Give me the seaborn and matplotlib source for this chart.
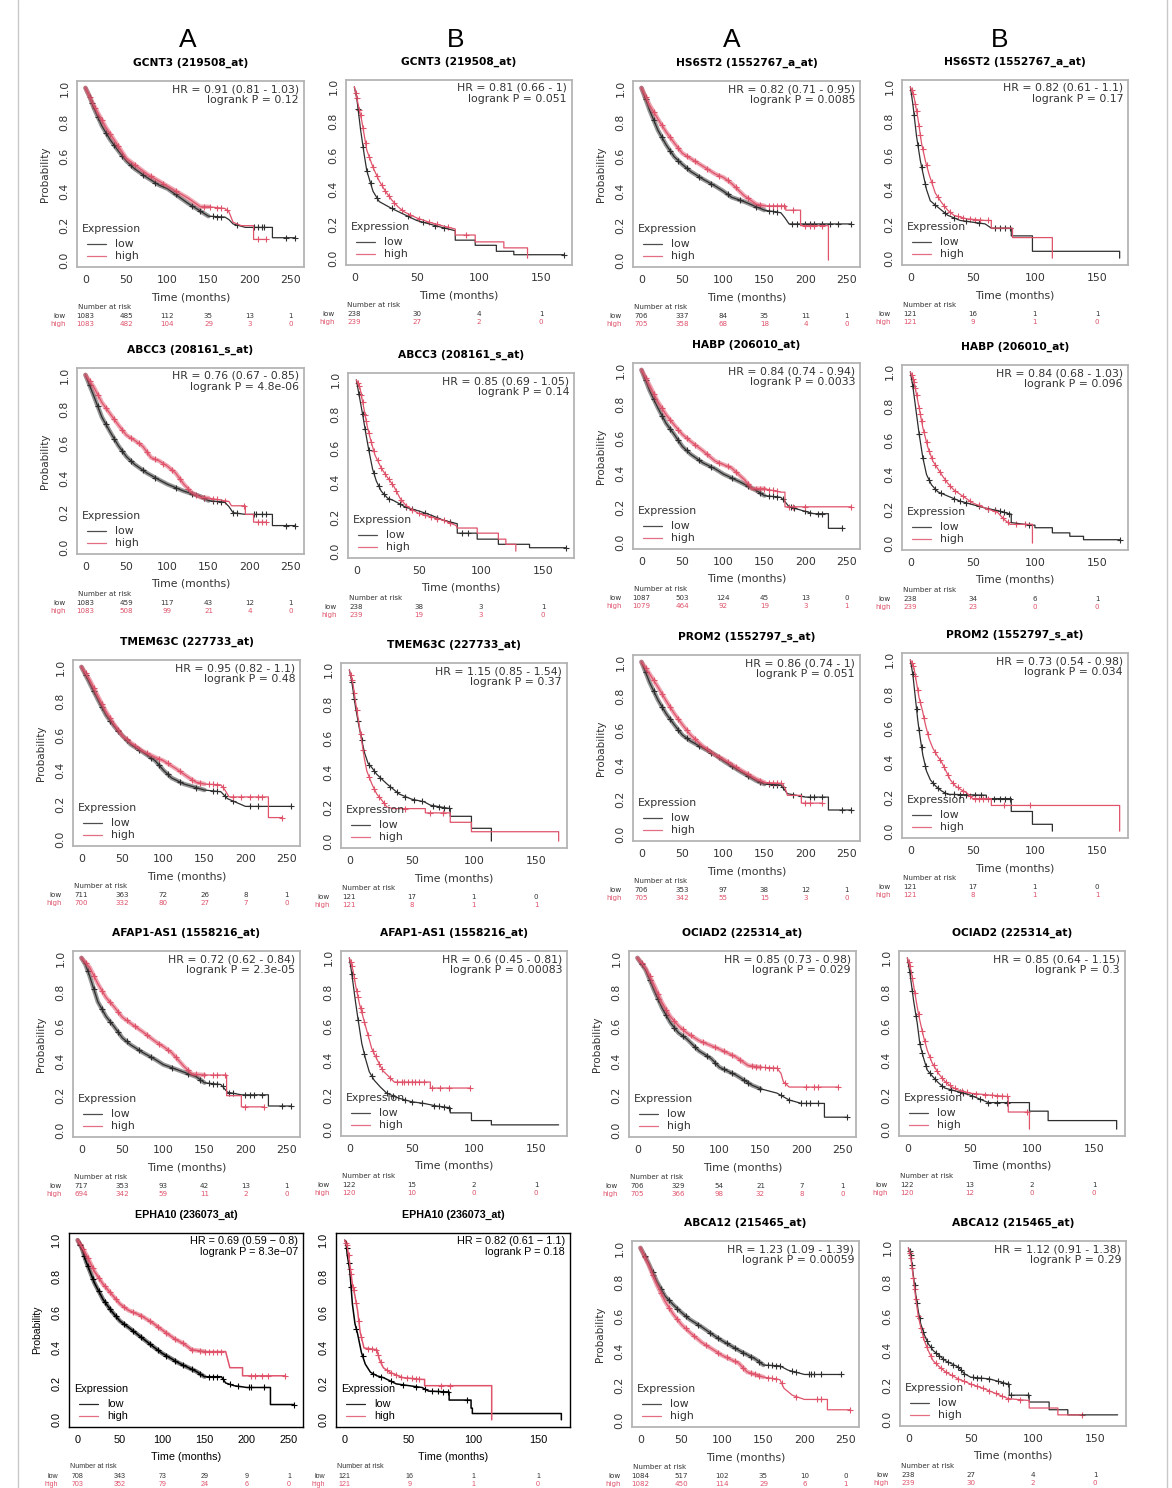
import numpy as np
import pandas as pd
import matplotlib.pyplot as plt
import seaborn as sns
from matplotlib.lines import Line2D
from matplotlib.transforms import blended_transform_factory

sns.set_style("white")
plt.rcParams["font.family"] = ["DejaVu Sans"]

# ---------------- curves: vertices (T, S) and censor times (C) ----------------
GCNT3_A_LOW_T = [0, 5, 10, 20, 30, 40, 50, 60, 75, 90, 100, 125, 150, 170, 175, 180, 195, 228, 228, 256]
GCNT3_A_LOW_S = [1.0, 0.95, 0.885, 0.78, 0.70, 0.635, 0.575, 0.53, 0.48, 0.435, 0.415, 0.33, 0.255, 0.25, 0.235, 0.21, 0.19, 0.19, 0.13, 0.13]
GCNT3_A_LOW_C = [8, 15, 25, 35, 45, 55, 70, 85, 110, 130, 140, 155, 160, 165, 185, 205, 210, 215, 218, 245, 256]
GCNT3_A_HIGH_T = [0, 10, 25, 50, 75, 100, 125, 140, 150, 170, 175, 180, 190, 205, 205, 220]
GCNT3_A_HIGH_S = [1.0, 0.90, 0.77, 0.59, 0.50, 0.43, 0.36, 0.31, 0.31, 0.30, 0.28, 0.22, 0.20, 0.20, 0.12, 0.12]
GCNT3_A_HIGH_C = [5, 12, 20, 30, 40, 60, 80, 95, 110, 145, 152, 160, 165, 172, 210, 220]

GCNT3_B_LOW_T = [0, 2, 5, 8, 10, 15, 20, 25, 30, 40, 50, 60, 70, 81, 81, 97, 97, 114, 114, 128, 128, 168]
GCNT3_B_LOW_S = [1.0, 0.93, 0.75, 0.60, 0.51, 0.39, 0.33, 0.31, 0.29, 0.255, 0.22, 0.20, 0.18, 0.16, 0.105, 0.105, 0.075, 0.075, 0.04, 0.04, 0.02, 0.02]
GCNT3_B_LOW_C = [3, 7, 10, 13, 18, 30, 43, 55, 65, 72, 168]
GCNT3_B_HIGH_T = [0, 3, 6, 10, 15, 20, 25, 30, 35, 40, 50, 60, 70, 81, 81, 97, 97, 120, 120, 139, 139]
GCNT3_B_HIGH_S = [1.0, 0.90, 0.80, 0.63, 0.53, 0.45, 0.39, 0.34, 0.30, 0.27, 0.235, 0.21, 0.19, 0.17, 0.135, 0.135, 0.095, 0.095, 0.06, 0.06, 0.0]
GCNT3_B_HIGH_C = [1, 2, 4, 5, 7, 9, 12, 15, 18, 22, 25, 28, 32, 38, 45, 52, 60, 66, 75, 90]

HS6ST2_A_LOW_T = [0, 10, 20, 30, 40, 50, 60, 75, 90, 100, 110, 125, 150, 170, 175, 180, 256]
HS6ST2_A_LOW_S = [1.0, 0.87, 0.755, 0.67, 0.60, 0.555, 0.515, 0.47, 0.43, 0.40, 0.365, 0.34, 0.29, 0.275, 0.245, 0.21, 0.21]
HS6ST2_A_LOW_C = [5, 15, 25, 35, 45, 55, 70, 85, 105, 120, 140, 155, 160, 165, 183, 190, 200, 205, 210, 220, 230, 240, 256]
HS6ST2_A_HIGH_T = [0, 10, 20, 30, 40, 50, 60, 75, 90, 100, 110, 125, 140, 150, 176, 176, 194, 194, 228, 228]
HS6ST2_A_HIGH_S = [1.0, 0.90, 0.82, 0.745, 0.68, 0.62, 0.59, 0.545, 0.50, 0.48, 0.445, 0.375, 0.325, 0.315, 0.315, 0.29, 0.29, 0.20, 0.20, 0.0]
HS6ST2_A_HIGH_C = [5, 15, 25, 35, 45, 55, 65, 80, 95, 105, 115, 130, 145, 155, 160, 165, 170, 174, 185, 200, 205, 210, 220]

HS6ST2_B_LOW_T = [0, 2, 5, 8, 10, 13, 16, 20, 25, 30, 40, 50, 60, 65, 81, 81, 98, 98, 168, 168]
HS6ST2_B_LOW_S = [1.0, 0.90, 0.71, 0.57, 0.50, 0.40, 0.335, 0.31, 0.28, 0.25, 0.22, 0.21, 0.20, 0.175, 0.175, 0.13, 0.13, 0.04, 0.04, 0.0]
HS6ST2_B_LOW_C = [3, 6, 9, 12, 20, 28, 35, 45, 55, 68, 72, 76, 80]
HS6ST2_B_HIGH_T = [0, 3, 6, 9, 12, 15, 20, 25, 30, 35, 45, 60, 65, 65, 82, 82, 114, 114]
HS6ST2_B_HIGH_S = [1.0, 0.94, 0.82, 0.67, 0.57, 0.49, 0.38, 0.325, 0.28, 0.25, 0.23, 0.22, 0.22, 0.175, 0.175, 0.12, 0.12, 0.0]
HS6ST2_B_HIGH_C = [1, 2, 4, 5, 7, 8, 10, 13, 17, 22, 27, 32, 38, 42, 48, 52, 56, 62]

ABCC3_A_LOW_T = [0, 10, 20, 30, 40, 50, 60, 75, 90, 100, 120, 140, 150, 170, 175, 180, 195, 228, 228, 256]
ABCC3_A_LOW_S = [1.0, 0.88, 0.755, 0.67, 0.59, 0.525, 0.48, 0.43, 0.39, 0.365, 0.325, 0.295, 0.27, 0.26, 0.235, 0.20, 0.19, 0.19, 0.125, 0.125]
ABCC3_A_LOW_C = [5, 15, 25, 35, 45, 55, 70, 85, 110, 130, 145, 155, 160, 165, 180, 185, 205, 208, 215, 220, 245, 256]
ABCC3_A_HIGH_T = [0, 10, 20, 30, 40, 50, 60, 70, 80, 90, 100, 110, 120, 130, 140, 150, 175, 178, 195, 195, 205, 205, 220]
ABCC3_A_HIGH_S = [1.0, 0.93, 0.84, 0.775, 0.71, 0.65, 0.62, 0.585, 0.52, 0.50, 0.47, 0.43, 0.365, 0.315, 0.29, 0.285, 0.265, 0.24, 0.24, 0.19, 0.19, 0.145, 0.145]
ABCC3_A_HIGH_C = [5, 15, 25, 35, 45, 55, 65, 75, 85, 95, 105, 115, 125, 135, 145, 155, 160, 170, 193, 210, 215, 220]

ABCC3_B_LOW_T = [0, 2, 5, 8, 10, 13, 16, 20, 25, 30, 40, 50, 60, 70, 81, 81, 97, 97, 114, 114, 139, 139, 168]
ABCC3_B_LOW_S = [1.0, 0.92, 0.80, 0.67, 0.59, 0.48, 0.41, 0.35, 0.31, 0.295, 0.255, 0.235, 0.21, 0.18, 0.16, 0.105, 0.105, 0.07, 0.07, 0.04, 0.04, 0.02, 0.02]
ABCC3_B_LOW_C = [2, 5, 7, 10, 14, 18, 22, 26, 35, 40, 45, 55, 65, 75, 85, 90, 168]
ABCC3_B_HIGH_T = [0, 3, 6, 9, 12, 15, 20, 25, 30, 35, 40, 50, 60, 70, 80, 81, 97, 97, 114, 114, 120, 120, 128, 128]
ABCC3_B_HIGH_S = [1.0, 0.95, 0.835, 0.72, 0.635, 0.56, 0.485, 0.43, 0.38, 0.31, 0.265, 0.22, 0.20, 0.18, 0.15, 0.135, 0.135, 0.105, 0.105, 0.07, 0.07, 0.04, 0.04, 0.0]
ABCC3_B_HIGH_C = [1, 2, 4, 5, 7, 8, 10, 12, 14, 17, 20, 23, 26, 29, 32, 36, 40, 45, 50, 55, 60, 65, 70, 75]

HABP_A_LOW_T = [0, 10, 20, 30, 40, 50, 60, 75, 90, 100, 120, 140, 150, 170, 175, 180, 195, 210, 228, 228, 245]
HABP_A_LOW_S = [1.0, 0.88, 0.78, 0.69, 0.625, 0.555, 0.51, 0.46, 0.425, 0.395, 0.35, 0.30, 0.27, 0.26, 0.235, 0.205, 0.185, 0.165, 0.165, 0.08, 0.08]
HABP_A_LOW_C = [5, 15, 25, 35, 45, 55, 70, 85, 110, 130, 145, 155, 160, 165, 172, 182, 186, 200, 205, 215, 220, 245]
HABP_A_HIGH_T = [0, 10, 20, 30, 40, 50, 60, 75, 90, 100, 110, 125, 135, 150, 170, 175, 175, 256]
HABP_A_HIGH_S = [1.0, 0.91, 0.815, 0.74, 0.68, 0.625, 0.585, 0.53, 0.47, 0.45, 0.43, 0.365, 0.31, 0.31, 0.29, 0.29, 0.205, 0.205]
HABP_A_HIGH_C = [5, 15, 25, 35, 45, 55, 65, 80, 95, 105, 115, 130, 140, 145, 150, 155, 160, 165, 180, 185, 200, 256]

HABP_B_LOW_T = [0, 2, 5, 7, 10, 13, 17, 22, 30, 40, 50, 60, 70, 80, 81, 81, 97, 100, 100, 114, 114, 128, 128, 139, 139, 168]
HABP_B_LOW_S = [1.0, 0.915, 0.75, 0.64, 0.50, 0.40, 0.34, 0.30, 0.275, 0.245, 0.225, 0.205, 0.19, 0.17, 0.17, 0.12, 0.105, 0.105, 0.09, 0.09, 0.06, 0.06, 0.04, 0.04, 0.02, 0.02]
HABP_B_LOW_C = [2, 7, 10, 15, 20, 25, 35, 40, 45, 55, 62, 68, 72, 75, 79, 95, 168]
HABP_B_HIGH_T = [0, 3, 6, 10, 14, 18, 22, 26, 30, 35, 40, 50, 60, 70, 75, 80, 98, 98]
HABP_B_HIGH_S = [1.0, 0.94, 0.83, 0.675, 0.56, 0.48, 0.435, 0.39, 0.35, 0.31, 0.285, 0.235, 0.205, 0.18, 0.14, 0.11, 0.11, 0.0]
HABP_B_HIGH_C = [1, 2, 3, 4, 5, 7, 8, 9, 11, 13, 15, 17, 20, 24, 28, 32, 36, 42, 48, 55, 62, 68, 74, 78, 85, 92]

TMEM63C_A_LOW_T = [0, 10, 20, 30, 40, 50, 60, 75, 90, 100, 110, 125, 150, 170, 178, 200, 256]
TMEM63C_A_LOW_S = [1.0, 0.905, 0.81, 0.72, 0.655, 0.60, 0.55, 0.505, 0.455, 0.40, 0.355, 0.32, 0.285, 0.275, 0.235, 0.19, 0.19]
TMEM63C_A_LOW_C = [5, 15, 25, 35, 45, 55, 70, 85, 95, 105, 120, 140, 160, 165, 175, 185, 205, 215, 256]
TMEM63C_A_HIGH_T = [0, 10, 20, 30, 40, 50, 60, 75, 90, 100, 115, 130, 140, 150, 170, 175, 180, 228, 228, 245]
TMEM63C_A_HIGH_S = [1.0, 0.925, 0.83, 0.74, 0.665, 0.60, 0.56, 0.51, 0.475, 0.455, 0.41, 0.36, 0.33, 0.32, 0.315, 0.285, 0.245, 0.245, 0.125, 0.125]
TMEM63C_A_HIGH_C = [5, 15, 25, 35, 45, 55, 65, 80, 95, 105, 120, 135, 145, 155, 160, 165, 172, 185, 195, 205, 215, 220, 245]

TMEM63C_B_LOW_T = [0, 2, 5, 8, 12, 15, 18, 22, 30, 40, 50, 60, 65, 81, 81, 98, 98, 114, 114]
TMEM63C_B_LOW_S = [1.0, 0.93, 0.78, 0.66, 0.52, 0.455, 0.43, 0.39, 0.335, 0.275, 0.245, 0.23, 0.21, 0.19, 0.145, 0.145, 0.075, 0.075, 0.0]
TMEM63C_B_LOW_C = [2, 4, 7, 10, 16, 20, 25, 33, 38, 45, 52, 58, 67, 72, 76, 80]
TMEM63C_B_HIGH_T = [0, 3, 5, 8, 10, 12, 14, 18, 22, 26, 30, 35, 61, 61, 81, 81, 98, 98, 168, 168]
TMEM63C_B_HIGH_S = [1.0, 0.915, 0.81, 0.675, 0.58, 0.485, 0.41, 0.335, 0.275, 0.24, 0.20, 0.19, 0.19, 0.165, 0.165, 0.11, 0.11, 0.055, 0.055, 0.0]
TMEM63C_B_HIGH_C = [1, 2, 4, 6, 9, 11, 16, 20, 24, 28, 45, 65, 75]

PROM2_A_LOW_T = [0, 10, 20, 30, 40, 50, 60, 75, 90, 100, 120, 140, 150, 170, 178, 200, 228, 228, 256]
PROM2_A_LOW_S = [1.0, 0.88, 0.78, 0.70, 0.635, 0.575, 0.54, 0.50, 0.46, 0.425, 0.365, 0.31, 0.29, 0.285, 0.235, 0.215, 0.215, 0.14, 0.14]
PROM2_A_LOW_C = [5, 15, 25, 35, 45, 55, 70, 85, 110, 130, 145, 155, 160, 165, 172, 185, 195, 205, 210, 220, 245, 256]
PROM2_A_HIGH_T = [0, 10, 20, 30, 40, 50, 60, 75, 90, 100, 120, 140, 150, 170, 175, 178, 195, 195, 220]
PROM2_A_HIGH_S = [1.0, 0.93, 0.855, 0.775, 0.70, 0.635, 0.575, 0.51, 0.46, 0.435, 0.375, 0.32, 0.30, 0.295, 0.27, 0.225, 0.225, 0.18, 0.18]
PROM2_A_HIGH_C = [5, 15, 25, 35, 45, 55, 65, 80, 95, 105, 115, 130, 145, 155, 160, 165, 170, 200, 205, 220]

PROM2_B_LOW_T = [0, 2, 4, 6, 8, 10, 13, 16, 20, 25, 30, 61, 61, 81, 81, 98, 98, 114, 114]
PROM2_B_LOW_S = [1.0, 0.915, 0.78, 0.645, 0.54, 0.445, 0.35, 0.30, 0.265, 0.235, 0.215, 0.21, 0.19, 0.19, 0.115, 0.115, 0.04, 0.04, 0.0]
PROM2_B_LOW_C = [2, 5, 7, 9, 12, 18, 22, 28, 35, 40, 45, 52, 57, 67, 72, 76, 80]
PROM2_B_HIGH_T = [0, 3, 5, 7, 10, 12, 15, 18, 22, 25, 28, 32, 36, 40, 45, 50, 65, 65, 168, 168]
PROM2_B_HIGH_S = [1.0, 0.95, 0.865, 0.78, 0.695, 0.625, 0.54, 0.485, 0.435, 0.405, 0.36, 0.30, 0.265, 0.245, 0.225, 0.19, 0.19, 0.15, 0.15, 0.0]
PROM2_B_HIGH_C = [1, 2, 4, 6, 8, 11, 14, 20, 24, 27, 30, 34, 38, 42, 48, 52, 55, 58, 62, 75, 96]

AFAP1_A_LOW_T = [0, 5, 10, 20, 30, 40, 50, 60, 75, 90, 100, 120, 140, 150, 170, 178, 195, 228, 228, 256]
AFAP1_A_LOW_S = [1.0, 0.96, 0.895, 0.745, 0.66, 0.60, 0.535, 0.495, 0.45, 0.41, 0.38, 0.345, 0.31, 0.275, 0.265, 0.22, 0.205, 0.205, 0.14, 0.14]
AFAP1_A_LOW_C = [8, 15, 25, 35, 45, 55, 70, 85, 110, 130, 145, 155, 160, 165, 172, 180, 185, 200, 205, 210, 220, 245, 256]
AFAP1_A_HIGH_T = [0, 10, 20, 30, 40, 50, 60, 75, 90, 100, 110, 125, 135, 150, 177, 177, 195, 195, 222]
AFAP1_A_HIGH_S = [1.0, 0.945, 0.85, 0.77, 0.715, 0.655, 0.62, 0.57, 0.515, 0.485, 0.45, 0.37, 0.325, 0.32, 0.32, 0.20, 0.20, 0.135, 0.135]
AFAP1_A_HIGH_C = [5, 15, 25, 35, 45, 55, 65, 80, 95, 105, 115, 130, 140, 150, 160, 165, 175, 200, 222]

AFAP1_B_LOW_T = [0, 2, 5, 7, 10, 13, 16, 20, 25, 30, 40, 50, 60, 70, 81, 81, 98, 98, 114, 114, 168]
AFAP1_B_LOW_S = [1.0, 0.905, 0.74, 0.64, 0.50, 0.41, 0.335, 0.285, 0.245, 0.21, 0.18, 0.16, 0.15, 0.135, 0.125, 0.095, 0.095, 0.05, 0.05, 0.025, 0.025]
AFAP1_B_LOW_C = [2, 7, 12, 18, 30, 35, 45, 50, 58, 68, 72, 76, 80]
AFAP1_B_HIGH_T = [0, 3, 5, 8, 11, 14, 18, 22, 27, 32, 36, 65, 65, 97]
AFAP1_B_HIGH_S = [1.0, 0.925, 0.84, 0.735, 0.655, 0.575, 0.47, 0.41, 0.34, 0.305, 0.275, 0.275, 0.24, 0.24]
AFAP1_B_HIGH_C = [1, 2, 4, 6, 7, 9, 10, 12, 15, 19, 21, 24, 26, 33, 38, 42, 44, 47, 50, 53, 56, 60, 66, 73, 80, 97]

OCIAD2_A_LOW_T = [0, 10, 20, 30, 40, 50, 60, 75, 90, 100, 120, 140, 150, 170, 185, 200, 228, 228, 256]
OCIAD2_A_LOW_S = [1.0, 0.93, 0.815, 0.71, 0.625, 0.565, 0.53, 0.46, 0.415, 0.365, 0.32, 0.26, 0.24, 0.215, 0.175, 0.155, 0.155, 0.075, 0.075]
OCIAD2_A_LOW_C = [5, 15, 25, 35, 45, 55, 70, 85, 95, 105, 115, 130, 135, 150, 175, 185, 200, 205, 210, 220, 256]
OCIAD2_A_HIGH_T = [0, 10, 20, 30, 40, 50, 60, 75, 90, 100, 120, 135, 150, 170, 175, 178, 185, 245]
OCIAD2_A_HIGH_S = [1.0, 0.94, 0.845, 0.74, 0.66, 0.605, 0.565, 0.52, 0.49, 0.47, 0.425, 0.375, 0.365, 0.36, 0.33, 0.28, 0.25, 0.25]
OCIAD2_A_HIGH_C = [5, 15, 25, 35, 45, 55, 65, 80, 95, 105, 115, 125, 140, 145, 150, 155, 160, 165, 170, 180, 205, 215, 220, 245]

OCIAD2_B_LOW_T = [0, 2, 5, 8, 10, 13, 16, 20, 25, 30, 40, 50, 60, 65, 98, 98, 113, 113, 168, 168]
OCIAD2_B_LOW_S = [1.0, 0.915, 0.75, 0.615, 0.50, 0.415, 0.345, 0.31, 0.27, 0.24, 0.22, 0.20, 0.17, 0.155, 0.155, 0.105, 0.105, 0.05, 0.05, 0.0]
OCIAD2_B_LOW_C = [2, 4, 7, 10, 12, 15, 18, 22, 28, 35, 42, 45, 52, 58, 65, 72, 80]
OCIAD2_B_HIGH_T = [0, 3, 5, 8, 10, 13, 16, 20, 25, 30, 35, 40, 50, 65, 81, 81, 98, 98]
OCIAD2_B_HIGH_S = [1.0, 0.925, 0.84, 0.71, 0.635, 0.54, 0.46, 0.385, 0.325, 0.28, 0.25, 0.23, 0.21, 0.20, 0.19, 0.10, 0.10, 0.0]
OCIAD2_B_HIGH_C = [1, 2, 4, 6, 9, 12, 14, 18, 21, 24, 28, 31, 34, 38, 44, 48, 55, 62, 68, 72, 76, 80, 96]

EPHA10_A_LOW_T = [0, 5, 10, 20, 30, 40, 50, 60, 75, 90, 100, 120, 140, 150, 170, 175, 185, 200, 228, 228, 256]
EPHA10_A_LOW_S = [1.0, 0.955, 0.88, 0.76, 0.67, 0.605, 0.55, 0.515, 0.46, 0.405, 0.37, 0.315, 0.27, 0.24, 0.24, 0.205, 0.19, 0.18, 0.18, 0.085, 0.085]
EPHA10_A_LOW_C = [3, 8, 12, 18, 25, 32, 38, 45, 55, 65, 75, 85, 95, 105, 115, 125, 135, 145, 155, 160, 165, 172, 180, 190, 203, 205, 220, 256]
EPHA10_A_HIGH_T = [0, 10, 20, 30, 40, 50, 60, 75, 90, 100, 115, 125, 135, 150, 175, 180, 195, 195, 245]
EPHA10_A_HIGH_S = [1.0, 0.92, 0.825, 0.755, 0.70, 0.645, 0.61, 0.58, 0.535, 0.50, 0.45, 0.425, 0.39, 0.38, 0.38, 0.29, 0.29, 0.245, 0.245]
EPHA10_A_HIGH_C = [3, 6, 12, 18, 25, 32, 38, 45, 55, 65, 75, 85, 95, 105, 115, 125, 135, 145, 150, 155, 160, 165, 170, 205, 210, 218, 225, 245]

EPHA10_B_LOW_T = [0, 1, 2, 4, 6, 8, 10, 13, 16, 20, 25, 30, 40, 50, 60, 65, 81, 81, 98, 98, 99, 99, 168, 168]
EPHA10_B_LOW_S = [1.0, 0.99, 0.92, 0.83, 0.645, 0.535, 0.48, 0.375, 0.31, 0.265, 0.245, 0.235, 0.20, 0.19, 0.18, 0.16, 0.155, 0.11, 0.11, 0.065, 0.065, 0.035, 0.035, 0.0]
EPHA10_B_LOW_C = [1.5, 3, 5, 9, 14, 22, 28, 36, 45, 55, 62, 68, 72, 76, 80, 95]
EPHA10_B_HIGH_T = [0, 2, 4, 6, 8, 10, 12, 15, 25, 27, 30, 35, 45, 60, 62, 62, 114, 114]
EPHA10_B_HIGH_S = [1.0, 0.965, 0.865, 0.755, 0.69, 0.61, 0.49, 0.40, 0.39, 0.335, 0.29, 0.265, 0.235, 0.225, 0.225, 0.19, 0.19, 0.0]
EPHA10_B_HIGH_C = [1, 1.5, 3, 4.5, 5, 6.5, 7, 9, 11, 13, 18, 21, 24, 26, 28, 33, 36, 40, 44, 48, 52, 55, 58, 75, 82]

ABCA12_A_LOW_T = [0, 10, 20, 30, 40, 50, 60, 75, 90, 100, 120, 140, 150, 170, 180, 200, 245]
ABCA12_A_LOW_S = [1.0, 0.91, 0.805, 0.72, 0.67, 0.625, 0.585, 0.54, 0.49, 0.46, 0.405, 0.355, 0.32, 0.315, 0.29, 0.265, 0.265]
ABCA12_A_LOW_C = [5, 15, 25, 35, 45, 55, 70, 85, 95, 105, 115, 125, 135, 145, 155, 160, 165, 170, 185, 190, 205, 208, 212, 220, 245]
ABCA12_A_HIGH_T = [0, 10, 20, 30, 40, 50, 60, 75, 90, 100, 120, 130, 150, 170, 175, 185, 200, 228, 228, 256]
ABCA12_A_HIGH_S = [1.0, 0.90, 0.785, 0.69, 0.615, 0.555, 0.51, 0.45, 0.405, 0.375, 0.33, 0.28, 0.25, 0.235, 0.185, 0.145, 0.12, 0.12, 0.06, 0.06]
ABCA12_A_HIGH_C = [5, 15, 25, 35, 45, 55, 65, 80, 95, 105, 115, 125, 135, 140, 145, 155, 160, 165, 172, 190, 215, 220, 256]

ABCA12_B_LOW_T = [0, 2, 4, 6, 8, 10, 13, 16, 20, 25, 30, 40, 45, 50, 65, 80, 81, 81, 97, 97, 113, 113, 128, 128, 168]
ABCA12_B_LOW_S = [1.0, 0.96, 0.84, 0.725, 0.63, 0.555, 0.49, 0.44, 0.40, 0.37, 0.34, 0.305, 0.265, 0.245, 0.235, 0.205, 0.205, 0.14, 0.14, 0.10, 0.10, 0.055, 0.055, 0.025, 0.025]
ABCA12_B_LOW_C = [1, 2, 3, 5, 7, 9, 12, 15, 18, 22, 25, 28, 32, 36, 40, 42, 45, 52, 55, 58, 65, 72, 76, 80, 82, 96]
ABCA12_B_HIGH_T = [0, 2, 4, 6, 8, 10, 13, 16, 20, 25, 30, 40, 50, 60, 70, 80, 95, 97, 97, 120, 120, 139]
ABCA12_B_HIGH_S = [1.0, 0.94, 0.825, 0.70, 0.60, 0.535, 0.455, 0.40, 0.34, 0.305, 0.275, 0.235, 0.205, 0.18, 0.15, 0.12, 0.11, 0.11, 0.065, 0.065, 0.025, 0.025]
ABCA12_B_HIGH_C = [1, 2, 3, 4, 5, 6, 8, 10, 12, 15, 18, 22, 26, 30, 35, 40, 45, 50, 55, 60, 65, 70, 75, 80, 90, 139]

# ---------------- titles, statistics, numbers at risk ----------------
TITLES = ["GCNT3 (219508_at)", "HS6ST2 (1552767_a_at)", "ABCC3 (208161_s_at)", "HABP (206010_at)",
          "TMEM63C (227733_at)", "PROM2 (1552797_s_at)", "AFAP1-AS1 (1558216_at)", "OCIAD2 (225314_at)",
          "EPHA10 (236073_at)", "ABCA12 (215465_at)"]

HR_TEXT = ["0.91 (0.81 - 1.03)", "0.81 (0.66 - 1)", "0.82 (0.71 - 0.95)", "0.82 (0.61 - 1.1)",
           "0.76 (0.67 - 0.85)", "0.85 (0.69 - 1.05)", "0.84 (0.74 - 0.94)", "0.84 (0.68 - 1.03)",
           "0.95 (0.82 - 1.1)", "1.15 (0.85 - 1.54)", "0.86 (0.74 - 1)", "0.73 (0.54 - 0.98)",
           "0.72 (0.62 - 0.84)", "0.6 (0.45 - 0.81)", "0.85 (0.73 - 0.98)", "0.85 (0.64 - 1.15)",
           "0.69 (0.59 \u2212 0.8)", "0.82 (0.61 \u2212 1.1)", "1.23 (1.09 - 1.39)", "1.12 (0.91 - 1.38)"]
P_TEXT = ["0.12", "0.051", "0.0085", "0.17", "4.8e-06", "0.14", "0.0033", "0.096",
          "0.48", "0.37", "0.051", "0.034", "2.3e-05", "0.00083", "0.029", "0.3",
          "8.3e\u221207", "0.18", "0.00059", "0.29"]

RISK_LOW = [[1083, 485, 112, 35, 13, 1], [238, 30, 4, 1], [706, 337, 84, 35, 11, 1], [121, 16, 1, 1],
            [1083, 459, 117, 43, 12, 1], [238, 38, 3, 1], [1087, 503, 124, 45, 13, 0], [238, 34, 6, 1],
            [711, 363, 72, 26, 8, 1], [121, 17, 1, 0], [706, 353, 97, 38, 12, 1], [121, 17, 1, 0],
            [717, 353, 93, 42, 13, 1], [122, 15, 2, 1], [706, 329, 54, 21, 7, 1], [122, 13, 2, 1],
            [708, 343, 73, 29, 9, 1], [121, 16, 1, 1], [1084, 517, 102, 35, 10, 0], [238, 27, 4, 1]]
RISK_HIGH = [[1083, 482, 104, 29, 3, 0], [239, 27, 2, 0], [705, 358, 68, 18, 4, 0], [121, 9, 1, 0],
             [1083, 508, 99, 21, 4, 0], [239, 19, 3, 0], [1079, 464, 92, 19, 3, 1], [239, 23, 0, 0],
             [700, 332, 80, 27, 7, 0], [121, 8, 1, 1], [705, 342, 55, 15, 3, 0], [121, 8, 1, 1],
             [694, 342, 59, 11, 2, 0], [120, 10, 0, 0], [705, 366, 98, 32, 8, 0], [120, 12, 0, 0],
             [703, 352, 79, 24, 6, 0], [121, 9, 1, 0], [1082, 450, 114, 29, 6, 1], [239, 30, 2, 0]]

CURVES = [
    ((GCNT3_A_LOW_T, GCNT3_A_LOW_S, GCNT3_A_LOW_C), (GCNT3_A_HIGH_T, GCNT3_A_HIGH_S, GCNT3_A_HIGH_C)),
    ((GCNT3_B_LOW_T, GCNT3_B_LOW_S, GCNT3_B_LOW_C), (GCNT3_B_HIGH_T, GCNT3_B_HIGH_S, GCNT3_B_HIGH_C)),
    ((HS6ST2_A_LOW_T, HS6ST2_A_LOW_S, HS6ST2_A_LOW_C), (HS6ST2_A_HIGH_T, HS6ST2_A_HIGH_S, HS6ST2_A_HIGH_C)),
    ((HS6ST2_B_LOW_T, HS6ST2_B_LOW_S, HS6ST2_B_LOW_C), (HS6ST2_B_HIGH_T, HS6ST2_B_HIGH_S, HS6ST2_B_HIGH_C)),
    ((ABCC3_A_LOW_T, ABCC3_A_LOW_S, ABCC3_A_LOW_C), (ABCC3_A_HIGH_T, ABCC3_A_HIGH_S, ABCC3_A_HIGH_C)),
    ((ABCC3_B_LOW_T, ABCC3_B_LOW_S, ABCC3_B_LOW_C), (ABCC3_B_HIGH_T, ABCC3_B_HIGH_S, ABCC3_B_HIGH_C)),
    ((HABP_A_LOW_T, HABP_A_LOW_S, HABP_A_LOW_C), (HABP_A_HIGH_T, HABP_A_HIGH_S, HABP_A_HIGH_C)),
    ((HABP_B_LOW_T, HABP_B_LOW_S, HABP_B_LOW_C), (HABP_B_HIGH_T, HABP_B_HIGH_S, HABP_B_HIGH_C)),
    ((TMEM63C_A_LOW_T, TMEM63C_A_LOW_S, TMEM63C_A_LOW_C), (TMEM63C_A_HIGH_T, TMEM63C_A_HIGH_S, TMEM63C_A_HIGH_C)),
    ((TMEM63C_B_LOW_T, TMEM63C_B_LOW_S, TMEM63C_B_LOW_C), (TMEM63C_B_HIGH_T, TMEM63C_B_HIGH_S, TMEM63C_B_HIGH_C)),
    ((PROM2_A_LOW_T, PROM2_A_LOW_S, PROM2_A_LOW_C), (PROM2_A_HIGH_T, PROM2_A_HIGH_S, PROM2_A_HIGH_C)),
    ((PROM2_B_LOW_T, PROM2_B_LOW_S, PROM2_B_LOW_C), (PROM2_B_HIGH_T, PROM2_B_HIGH_S, PROM2_B_HIGH_C)),
    ((AFAP1_A_LOW_T, AFAP1_A_LOW_S, AFAP1_A_LOW_C), (AFAP1_A_HIGH_T, AFAP1_A_HIGH_S, AFAP1_A_HIGH_C)),
    ((AFAP1_B_LOW_T, AFAP1_B_LOW_S, AFAP1_B_LOW_C), (AFAP1_B_HIGH_T, AFAP1_B_HIGH_S, AFAP1_B_HIGH_C)),
    ((OCIAD2_A_LOW_T, OCIAD2_A_LOW_S, OCIAD2_A_LOW_C), (OCIAD2_A_HIGH_T, OCIAD2_A_HIGH_S, OCIAD2_A_HIGH_C)),
    ((OCIAD2_B_LOW_T, OCIAD2_B_LOW_S, OCIAD2_B_LOW_C), (OCIAD2_B_HIGH_T, OCIAD2_B_HIGH_S, OCIAD2_B_HIGH_C)),
    ((EPHA10_A_LOW_T, EPHA10_A_LOW_S, EPHA10_A_LOW_C), (EPHA10_A_HIGH_T, EPHA10_A_HIGH_S, EPHA10_A_HIGH_C)),
    ((EPHA10_B_LOW_T, EPHA10_B_LOW_S, EPHA10_B_LOW_C), (EPHA10_B_HIGH_T, EPHA10_B_HIGH_S, EPHA10_B_HIGH_C)),
    ((ABCA12_A_LOW_T, ABCA12_A_LOW_S, ABCA12_A_LOW_C), (ABCA12_A_HIGH_T, ABCA12_A_HIGH_S, ABCA12_A_HIGH_C)),
    ((ABCA12_B_LOW_T, ABCA12_B_LOW_S, ABCA12_B_LOW_C), (ABCA12_B_HIGH_T, ABCA12_B_HIGH_S, ABCA12_B_HIGH_C)),
]

# panel boxes in pixels: left, top, width, height
BOXES = [(77, 81, 227, 186), (346, 80, 226, 185), (633, 81, 227, 186), (902, 80, 226, 185),
         (77, 368, 227, 186), (348, 373, 226, 185), (633, 363, 227, 186), (902, 365, 226, 185),
         (73, 660, 227, 186), (341, 663, 226, 185), (633, 655, 227, 186), (902, 653, 226, 185),
         (73, 951, 227, 186), (341, 951, 226, 185), (629, 951, 227, 186), (899, 951, 226, 185),
         (69, 1233, 234, 194), (336, 1233, 234, 194), (632, 1241, 227, 186), (900, 1241, 226, 185)]

LOW_COL = "#2e2e2e"
HIGH_COL = "#DF536B"
FRAME = "#b4b4b4"
W, H = 1172, 1488

fig = plt.figure(figsize=(W / 100, H / 100), dpi=100)


def km(ax, t, s, c, color, heavy, lw):
    df = pd.DataFrame({"t": t, "s": s})
    if heavy:
        # dense censoring makes the early part of large cohorts look heavier
        sns.lineplot(data=df[df.t <= 150], x="t", y="s", sort=False, estimator=None,
                     color=color, lw=3.2, alpha=0.5, ax=ax)
    sns.lineplot(data=df, x="t", y="s", sort=False, estimator=None, color=color, lw=lw, ax=ax)
    cy = np.interp(c, df.t, df.s)
    sns.scatterplot(x=c, y=cy, marker="+", s=22, color=color, linewidth=0.8, ax=ax)


for i in range(20):
    left, top, w, h = BOXES[i]
    long_axis = i % 2 == 0
    plain = i in (16, 17)  # EPHA10 panels come from a different renderer
    fam = ["Liberation Sans"] if plain else ["DejaVu Sans"]
    frame = "black" if plain else FRAME
    txt = "black" if plain else "#333333"
    lowc = "black" if plain else LOW_COL

    ax = fig.add_axes([left / W, 1 - (top + h) / H, w / W, h / H])
    low, high = CURVES[i]
    km(ax, *low, lowc, long_axis, 1.1 if plain else 0.9)
    km(ax, *high, HIGH_COL, long_axis, 1.1 if plain else 0.9)

    xmax = 250 if long_axis else 150
    if long_axis:
        ax.set_xlim(-10.3, 266.5)
    else:
        ax.set_xlim(-6.7, 174.7)
    ax.set_ylim(-0.04, 1.04)
    xt = list(range(0, xmax + 1, 50))
    ax.set_xticks(xt)
    ax.set_xticklabels([str(v) for v in xt], fontsize=7.8, family=fam, color=txt)
    yt = [0.0, 0.2, 0.4, 0.6, 0.8, 1.0]
    ax.set_yticks(yt)
    ax.set_yticklabels([f"{v:.1f}" for v in yt], rotation=90, va="center", fontsize=7.8,
                       family=fam, color=txt)
    ax.tick_params(length=3, width=0.8, color=frame, pad=2.5)
    for sp in ax.spines.values():
        sp.set_color(frame)
        sp.set_linewidth(1.0 if plain else 1.3)
    ax.set_xlabel("")
    ax.set_ylabel("")

    ax.text(0.5, 1 + 18 / h, TITLES[i // 2], transform=ax.transAxes, ha="center", va="center",
            fontsize=7.7, fontweight="bold", family=fam, color="black")
    ax.text(1 - 5 / w, 1 - 3 / h, f"HR = {HR_TEXT[i]}\nlogrank P = {P_TEXT[i]}",
            transform=ax.transAxes, ha="right", va="top", fontsize=7.8, family=fam,
            color=txt, linespacing=1.15, multialignment="right")
    ax.text(0.5, -30 / h, "Time (months)", transform=ax.transAxes, ha="center", va="center",
            fontsize=7.8, family=fam, color=txt)
    if long_axis:
        ax.text(-32 / w, 0.5, "Probability", transform=ax.transAxes, ha="center", va="center",
                rotation=90, fontsize=7.5, family=fam, color=txt)

    # legend drawn the way the R output lays it out
    ax.text(5 / w, 38 / h, "Expression", transform=ax.transAxes, ha="left", va="center",
            fontsize=7.8, family=fam, color=txt)
    for yy, name, col in ((23, "low", lowc), (11, "high", HIGH_COL)):
        ax.add_line(Line2D([10 / w, 29 / w], [yy / h, yy / h], transform=ax.transAxes,
                           color=col, lw=0.9, alpha=0.85))
        ax.text(38 / w, yy / h, name, transform=ax.transAxes, ha="left", va="center",
                fontsize=7.8, family=fam, color=txt)

    # numbers at risk
    tr = blended_transform_factory(ax.transData, ax.transAxes)
    ax.text(0.003, -40 / h, "Number at risk", transform=ax.transAxes, ha="left", va="center",
            fontsize=5.1, family=fam, color="#333333")
    for yy, name, col, vals in ((49, "low", "#333333", RISK_LOW[i]),
                                (57, "high", HIGH_COL, RISK_HIGH[i])):
        ax.text(-11 / w, -yy / h, name, transform=ax.transAxes, ha="right", va="center",
                fontsize=5.1, family=fam, color=col)
        for x, v in zip(xt, vals):
            ax.text(x, -yy / h, str(v), transform=tr, ha="center", va="center",
                    fontsize=5.1, family=fam, color=col)

# column headers
for x, lab in ((188, "A"), (456, "B"), (732, "A"), (1000, "B")):
    fig.text(x / W, 1 - 40 / H, lab, ha="center", va="center", fontsize=19,
             family=["Liberation Sans"], color="black")

# outer frame of the composite image
for x in (18, 1167):
    fig.add_artist(Line2D([x / W, x / W], [0, 1], color="#c8c8c8", lw=1.0))

fig.savefig("out.png", dpi=100)
